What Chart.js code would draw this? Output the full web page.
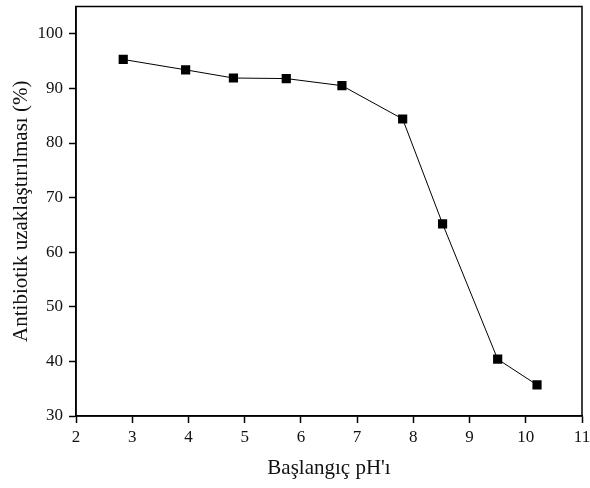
<!DOCTYPE html>
<html>
<head>
<meta charset="utf-8">
<script src="https://cdn.jsdelivr.net/npm/chart.js@4"></script>
<style>
  html, body { margin: 0; padding: 0; background: #fff; }
  #wrap { width: 590px; height: 488px; }
</style>
</head>
<body>
<div id="wrap"><canvas id="phChart" width="590" height="488"></canvas></div>
<script>
// values
const phValues = [2.84, 3.95, 4.80, 5.74, 6.73, 7.81, 8.52, 9.50, 10.20];
const removal = [95.3, 93.4, 91.9, 91.8, 90.5, 84.4, 65.2, 40.4, 35.7];
const xTicks = [2, 3, 4, 5, 6, 7, 8, 9, 10, 11];
const yTicks = [30, 40, 50, 60, 70, 80, 90, 100];

const serif = "'Liberation Serif', 'Times New Roman', serif";

// frame around the plot area
const frame = {
    id: 'frame',
    afterDatasetsDraw(chart) {
        const a = chart.chartArea;
        const ctx = chart.ctx;
        ctx.save();
        ctx.strokeStyle = '#000';
        ctx.lineWidth = 1.5;
        ctx.strokeRect(a.left, a.top, a.right - a.left, a.bottom - a.top);
        ctx.restore();
    }
};

const ctx = document.getElementById('phChart').getContext('2d');
new Chart(ctx, {
    type: 'line',
    data: {
        datasets: [{
            data: phValues.map((x, i) => ({ x: x, y: removal[i] })),
            borderColor: '#000',
            borderWidth: 1,
            backgroundColor: '#000',
            pointStyle: 'rect',
            pointRadius: 6.5,
            pointBorderWidth: 0,
            tension: 0
        }]
    },
    options: {
        responsive: false,
        animation: false,
        layout: { padding: { top: 6, right: 8, left: 0, bottom: 0 } },
        plugins: { legend: { display: false }, tooltip: { enabled: false } },
        scales: {
            x: {
                type: 'linear',
                min: 2,
                max: 11,
                afterBuildTicks: s => { s.ticks = xTicks.map(v => ({ value: v })); },
                afterFit: s => { s.height = 72; s.paddingLeft = 0; s.paddingRight = 0; },
                grid: { drawOnChartArea: false, tickLength: 7, tickColor: '#000', tickWidth: 1.5 },
                border: { color: '#000', width: 1.5 },
                ticks: { color: '#111', font: { family: serif, size: 17 }, padding: 4, maxRotation: 0 },
                title: { display: true, text: "Başlangıç pH'ı", color: '#111', font: { family: serif, size: 21 }, padding: { top: 6, bottom: 7 } }
            },
            y: {
                min: 30,
                max: 105,
                afterBuildTicks: s => { s.ticks = yTicks.map(v => ({ value: v })); },
                afterFit: s => { s.width = 76; s.paddingTop = 0; s.paddingBottom = 0; },
                grid: { drawOnChartArea: false, tickLength: 7, tickColor: '#000', tickWidth: 1.5 },
                border: { color: '#000', width: 1.5 },
                ticks: { color: '#111', font: { family: serif, size: 17 }, padding: 6 },
                title: { display: true, text: 'Antibiotik uzaklaştırılması (%)', color: '#111', font: { family: serif, size: 21 }, padding: { top: 9, bottom: 4 } }
            }
        }
    },
    plugins: [frame]
});
</script>
</body>
</html>
